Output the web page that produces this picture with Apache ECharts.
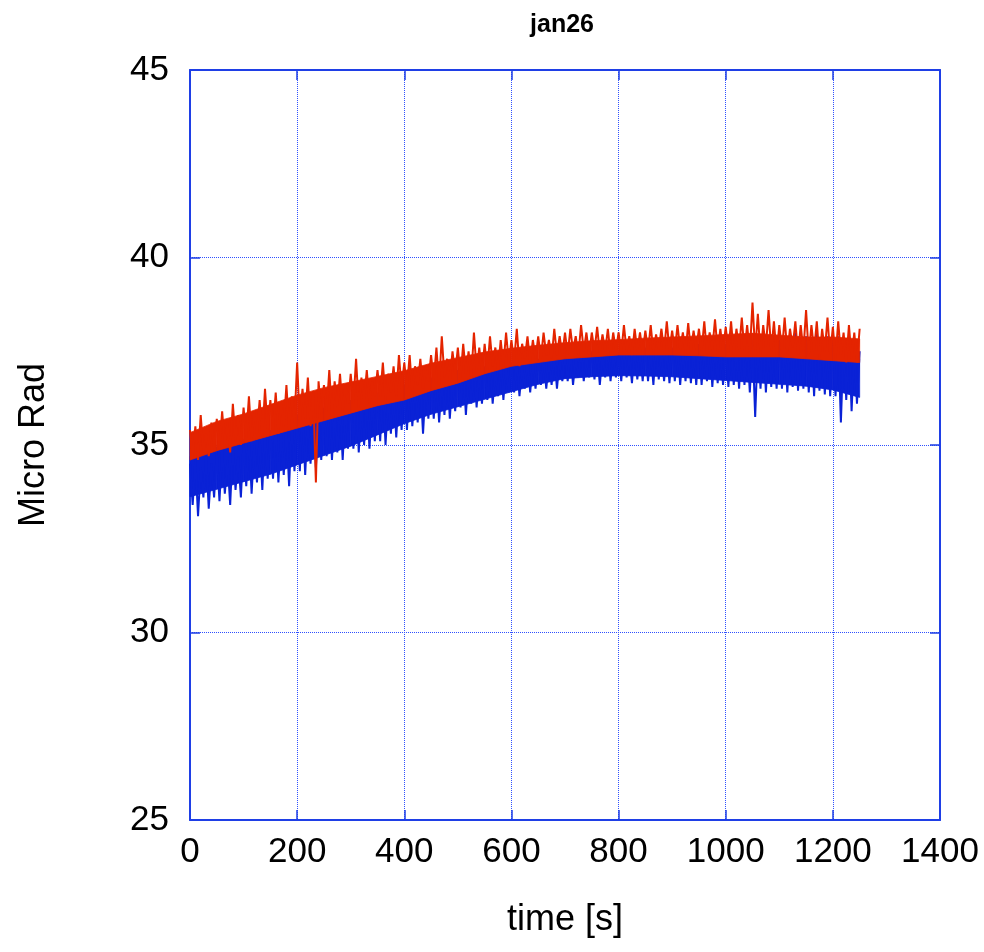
<!DOCTYPE html>
<html>
<head>
<meta charset="utf-8">
<script src="https://cdn.jsdelivr.net/npm/echarts@6/dist/echarts.min.js"></script>
<style>html,body{margin:0;padding:0;background:#fff;}#c{width:984px;height:952px;}</style>
</head>
<body>
<div id="c"></div>
<script>
// sample step of the recording (seconds between samples)
var SAMPLE_STEP = 5;
// step of the dense-core envelope readings (seconds)
var CORE_STEP = 50;
var xTicks = [0, 200, 400, 600, 800, 1000, 1200, 1400];
var yTicks = [25, 30, 35, 40, 45];

// red trace (micro rad), one value per sample
var redValues = [
35.4,34.7,35.5,34.6,35.8,34.8,35.3,34.7,35.6,34.9,
35.7,34.9,35.9,35.0,35.6,34.8,36.1,35.1,35.8,35.0,
36.0,35.2,36.3,35.1,35.9,35.3,36.2,35.2,36.5,35.4,
36.2,35.4,36.4,35.3,36.1,35.5,36.6,35.4,36.3,35.6,
37.2,35.6,36.5,35.7,36.8,35.5,36.4,34.0,36.7,35.8,
36.6,35.9,37.0,35.8,36.7,36.0,36.9,35.9,36.6,36.1,
36.9,36.1,37.3,36.0,36.8,36.2,37.0,36.1,36.7,36.3,
37.0,36.3,37.2,36.2,36.9,36.4,37.1,36.3,37.4,36.5,
37.2,36.5,37.4,36.4,37.1,36.6,37.3,36.5,37.0,36.7,
37.4,36.7,37.6,36.6,37.9,36.8,37.3,36.7,37.5,36.9,
37.6,36.8,37.7,36.9,37.5,36.8,38.0,37.0,37.6,36.9,
37.7,37.0,37.9,37.1,37.6,37.0,37.8,37.1,38.0,37.2,
37.8,37.2,38.1,37.1,37.7,37.3,37.9,37.2,37.8,37.3,
37.9,37.3,38.0,37.4,37.8,37.3,38.1,37.4,37.9,37.4,
38.0,37.4,38.1,37.5,37.9,37.4,38.2,37.5,38.0,37.4,
38.0,37.5,38.15,37.45,37.95,37.5,38.1,37.4,38.0,37.5,
38.0,37.45,38.2,37.5,37.9,37.4,38.1,37.5,38.0,37.45,
38.05,37.5,38.2,37.45,37.95,37.55,38.1,37.5,38.3,37.5,
38.05,37.5,38.2,37.55,38.0,37.45,38.25,37.5,38.05,37.55,
38.1,37.5,38.3,37.45,38.0,37.55,38.35,37.5,38.1,37.5,
38.15,37.5,38.3,37.4,38.1,37.55,38.4,37.5,38.2,37.45,
38.8,37.5,38.5,37.4,38.2,37.6,38.6,37.5,38.3,37.4,
38.2,37.5,38.4,37.45,38.1,37.6,38.3,37.4,38.2,37.5,
38.6,37.4,38.2,37.5,38.3,37.3,38.1,37.5,38.4,37.4,
38.15,37.3,38.3,37.4,38.0,37.2,38.2,37.3,38.0,37.2,
38.1
];

// blue trace (micro rad), one value per sample
var blueValues = [
34.5,33.4,34.6,33.1,34.4,33.6,34.7,33.3,34.5,33.6,
34.8,33.5,34.9,33.7,34.6,33.4,35.0,33.8,34.7,33.6,
35.1,33.9,35.3,33.7,35.0,34.0,35.2,33.8,35.4,34.1,
35.4,34.1,35.6,34.0,35.3,34.2,35.5,33.9,35.6,34.3,
35.8,34.3,36.0,34.2,35.7,34.5,35.9,34.4,35.8,34.6,
36.0,34.7,36.2,34.6,35.9,34.8,36.1,34.6,36.0,34.9,
36.2,34.9,36.4,34.8,36.1,35.0,36.3,34.9,36.2,35.1,
36.4,35.1,36.6,35.0,36.3,35.3,36.5,35.2,36.4,35.4,
36.6,35.4,36.8,35.5,36.5,35.6,36.7,35.3,36.6,35.7,
36.8,35.7,36.9,35.6,36.7,35.8,37.0,35.7,36.8,35.9,
37.0,36.0,37.1,35.8,36.9,36.1,37.2,36.0,37.0,36.1,
37.1,36.2,37.2,36.1,37.0,36.3,37.3,36.2,37.1,36.4,
37.2,36.4,37.3,36.3,37.1,36.5,37.4,36.4,37.2,36.5,
37.3,36.6,37.4,36.5,37.2,36.6,37.4,36.5,37.3,36.7,
37.4,36.7,37.5,36.6,37.3,36.8,37.5,36.7,37.4,36.8,
37.5,36.75,37.5,36.6,37.4,36.8,37.6,36.7,37.4,36.8,
37.5,36.7,37.6,36.8,37.4,36.65,37.6,36.75,37.5,36.7,
37.6,36.7,37.5,36.6,37.7,36.75,37.5,36.7,37.6,36.65,
37.6,36.7,37.7,36.6,37.5,36.7,37.7,36.65,37.6,36.6,
37.7,36.6,37.6,36.7,37.8,36.55,37.6,36.65,37.7,36.6,
37.7,36.55,37.8,36.6,37.6,36.5,37.9,36.6,37.7,36.4,
37.8,35.75,37.7,36.5,37.9,36.4,37.7,36.55,37.8,36.5,
37.8,36.5,37.9,36.4,37.7,36.55,38.0,36.45,37.8,36.5,
37.9,36.4,37.8,36.3,38.0,36.45,37.8,36.35,37.9,36.3,
37.8,36.3,37.9,35.6,37.7,36.2,37.9,35.9,37.6,36.1,
37.5
];

// dense core of each trace (where the samples overlap solidly), read every 50 s
var redCoreLow  = [34.6,34.85,35.05,35.25,35.45,35.65,35.85,36.05,36.2,36.45,36.65,36.9,37.1,37.2,37.3,37.35,37.4,37.4,37.4,37.38,37.35,37.35,37.35,37.3,37.25,37.2];
var redCoreHigh = [35.33,35.63,35.83,36.08,36.33,36.53,36.68,36.83,36.98,37.18,37.33,37.48,37.58,37.66,37.73,37.78,37.81,37.85,37.88,37.91,37.95,37.98,37.93,37.88,37.88,37.83];
var blueCoreLow  = [33.62,33.82,34.02,34.22,34.47,34.72,34.97,35.27,35.57,35.82,36.02,36.22,36.42,36.62,36.77,36.82,36.85,36.84,36.82,36.77,36.72,36.67,36.62,36.57,36.47,36.27];
var blueCoreHigh = [34.7,34.95,35.15,35.35,35.55,35.75,35.95,36.15,36.3,36.55,36.75,36.95,37.15,37.25,37.35,37.4,37.45,37.45,37.45,37.45,37.45,37.45,37.45,37.4,37.35,37.3];

var RED = '#e42400';
var BLUE = '#0a22d6';

function pairs(vals, step) {
  return vals.map(function (v, i) { return [i * step, v]; });
}

// band drawn as polygon segments between consecutive envelope readings
function bandSeries(id, low, high, color, z) {
  var rows = low.map(function (v, i) { return [i * CORE_STEP, v, high[i]]; });
  return {
    name: id, type: 'custom', silent: true, z: z,
    data: rows,
    encode: {x: 0, y: [1, 2]},
    renderItem: function (params, api) {
      var i = params.dataIndex;
      if (i >= rows.length - 1) return null;
      var a = rows[i], b = rows[i + 1];
      var pts = [
        api.coord([a[0], a[1]]), api.coord([b[0], b[1]]),
        api.coord([b[0], b[2]]), api.coord([a[0], a[2]])
      ];
      return {
        type: 'polygon', shape: {points: pts},
        style: {fill: color, stroke: color, lineWidth: 0.8}
      };
    }
  };
}

var AXIS_BLUE = '#1f3fe6';
var GRID_BLUE = '#2f50ff';
var FONT = 'Liberation Sans, Arial, sans-serif';

var series = [
  bandSeries('blueBand', blueCoreLow, blueCoreHigh, BLUE, 2),
  {
    name: 'blue', type: 'line', data: pairs(blueValues, SAMPLE_STEP), symbol: 'none',
    lineStyle: {color: BLUE, width: 2, join: 'bevel'}, z: 3
  },
  bandSeries('redBand', redCoreLow, redCoreHigh, RED, 4),
  {
    name: 'red', type: 'line', data: pairs(redValues, SAMPLE_STEP), symbol: 'none',
    lineStyle: {color: RED, width: 2, join: 'bevel'}, z: 5
  }
];

var chart = echarts.init(document.getElementById('c'), null, {renderer: 'canvas'});
chart.setOption({
  animation: false,
  backgroundColor: '#ffffff',
  title: {
    text: 'jan26', left: 557, top: 8, textAlign: 'center',
    textStyle: {fontFamily: FONT, fontWeight: 'bold', fontSize: 25, color: '#000'}
  },
  grid: {left: 190, right: 44, top: 70, bottom: 132},
  xAxis: [{
    type: 'value', min: xTicks[0], max: xTicks[xTicks.length - 1], interval: 200,
    position: 'bottom',
    name: 'time [s]', nameLocation: 'middle', nameGap: 82,
    nameTextStyle: {fontFamily: FONT, fontSize: 36, color: '#000'},
    axisLine: {show: true, onZero: false, lineStyle: {color: AXIS_BLUE, width: 2}},
    axisTick: {show: true, inside: true, length: 10, lineStyle: {color: AXIS_BLUE, width: 1.5}},
    axisLabel: {fontFamily: FONT, fontSize: 35, color: '#000', margin: 15,
      formatter: function (v) { return String(v); }},
    splitLine: {show: true, lineStyle: {color: GRID_BLUE, width: 1, type: 'dotted'}}
  }, {
    type: 'value', min: xTicks[0], max: xTicks[xTicks.length - 1], interval: 200,
    position: 'top',
    axisLine: {show: true, onZero: false, lineStyle: {color: AXIS_BLUE, width: 2}},
    axisTick: {show: true, inside: true, length: 10, lineStyle: {color: AXIS_BLUE, width: 1.5}},
    axisLabel: {show: false}, splitLine: {show: false}
  }],
  yAxis: [{
    type: 'value', min: yTicks[0], max: yTicks[yTicks.length - 1], interval: 5,
    position: 'left',
    name: 'Micro Rad', nameLocation: 'middle', nameGap: 138, nameRotate: 90,
    nameTextStyle: {fontFamily: FONT, fontSize: 36, color: '#000'},
    axisLine: {show: true, onZero: false, lineStyle: {color: AXIS_BLUE, width: 2}},
    axisTick: {show: true, inside: true, length: 10, lineStyle: {color: AXIS_BLUE, width: 1.5}},
    axisLabel: {fontFamily: FONT, fontSize: 35, color: '#000', margin: 21},
    splitLine: {show: true, lineStyle: {color: GRID_BLUE, width: 1, type: 'dotted'}}
  }, {
    type: 'value', min: yTicks[0], max: yTicks[yTicks.length - 1], interval: 5,
    position: 'right',
    axisLine: {show: true, onZero: false, lineStyle: {color: AXIS_BLUE, width: 2}},
    axisTick: {show: true, inside: true, length: 10, lineStyle: {color: AXIS_BLUE, width: 1.5}},
    axisLabel: {show: false}, splitLine: {show: false}
  }],
  series: series
});
</script>
</body>
</html>
